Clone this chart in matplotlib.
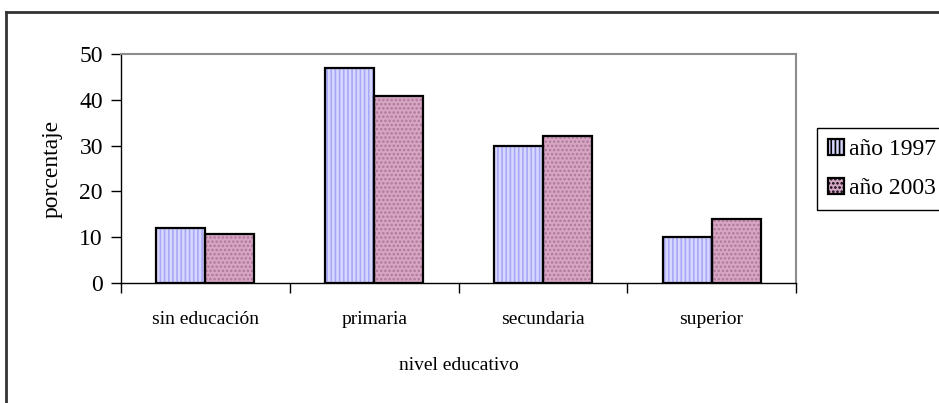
import matplotlib.pyplot as plt
import numpy as np
from matplotlib.lines import Line2D
from matplotlib.patches import Patch

plt.rcParams['font.family'] = ['Liberation Serif', 'DejaVu Serif']
plt.rcParams['hatch.linewidth'] = 1.2

categorias = ["sin educación", "primaria", "secundaria", "superior"]
anio_1997 = [12, 47, 30, 10]
anio_2003 = [10.8, 40.8, 32, 14]
series = ["año 1997", "año 2003"]
yticks = [0, 10, 20, 30, 40, 50]

fig = plt.figure(figsize=(9.39, 4.03), dpi=100)
ax = fig.add_axes([121 / 939, 1 - 283 / 403, (796 - 121) / 939, (283 - 54) / 403])

x = np.arange(len(categorias))
w = 0.29

# fill + pattern first, then black outline on top
ax.bar(x - w / 2, anio_1997, w, color='#d8d8ff', hatch='||||', edgecolor='#a8a8f8', linewidth=0)
ax.bar(x + w / 2, anio_2003, w, color='#d6a6c4', hatch='....', edgecolor='#b07898', linewidth=0)
ax.bar(x - w / 2, anio_1997, w, fill=False, edgecolor='black', linewidth=1.6)
ax.bar(x + w / 2, anio_2003, w, fill=False, edgecolor='black', linewidth=1.6)

ax.set_xlim(-0.5, len(categorias) - 0.5)
ax.set_ylim(0, 50)
ax.set_yticks(yticks)
ax.set_xticks(np.arange(len(categorias) + 1) - 0.5)
ax.set_xticklabels([])
ax.set_xticks(x, minor=True)
ax.set_xticklabels(categorias, minor=True)
ax.tick_params(axis='x', which='major', direction='out', length=7, width=1)
ax.tick_params(axis='x', which='minor', length=0, pad=20, labelsize=14)
ax.tick_params(axis='y', direction='out', length=7, width=1, pad=6, labelsize=17)

for s in ['top', 'right']:
    ax.spines[s].set_color('#8c8c8c')
    ax.spines[s].set_linewidth(1.5)
for s in ['left', 'bottom']:
    ax.spines[s].set_color('black')
    ax.spines[s].set_linewidth(1)

ax.set_xlabel("nivel educativo", fontsize=14, labelpad=21)
ax.set_ylabel("porcentaje", fontsize=17, labelpad=12)

handles = [Patch(facecolor='#d8d8ff', hatch='||||', edgecolor='black', linewidth=1.6),
           Patch(facecolor='#d6a6c4', hatch='....', edgecolor='black', linewidth=1.6)]
leg = fig.legend(handles, series, loc='upper left', bbox_to_anchor=(817 / 939, 1 - 128 / 403),
                 fontsize=17, frameon=True, fancybox=False, edgecolor='black', framealpha=1,
                 handlelength=0.7, handleheight=0.7, handletextpad=0.2, labelspacing=0.75,
                 borderpad=0.45, borderaxespad=0)
leg.get_frame().set_linewidth(1)

# outer chart border
fig.add_artist(Line2D([6 / 939, 1], [1 - 12 / 403, 1 - 12 / 403], color='#333333', lw=2, transform=fig.transFigure))
fig.add_artist(Line2D([6 / 939, 6 / 939], [0, 1 - 12 / 403], color='#333333', lw=2, transform=fig.transFigure))

fig.savefig("out.png", dpi=100)
